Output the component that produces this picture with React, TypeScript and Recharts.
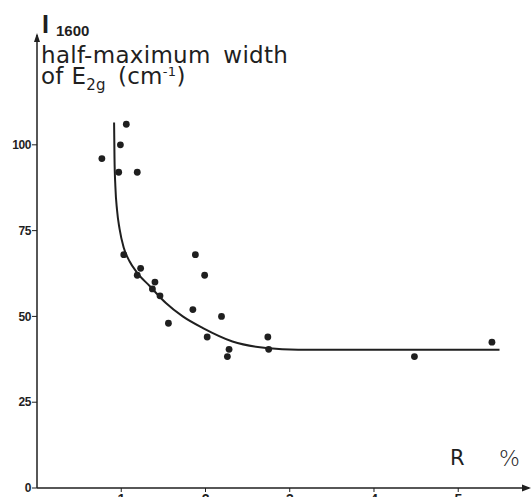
import React from "react";
import {
  ComposedChart,
  Scatter,
  Line,
  XAxis,
  YAxis,
  ReferenceDot,
} from "recharts";

// measured points: R (%) vs half-maximum width of E2g (cm-1)
const pointR = [
  0.77, 0.99, 1.06, 0.97, 1.19, 1.03, 1.23, 1.19, 1.4, 1.37, 1.46, 1.56, 1.85,
  1.88, 1.99, 2.19, 2.02, 2.28, 2.26, 2.74, 2.75, 4.48, 5.4,
];
const pointWidth = [
  96, 100, 106, 92, 92, 68, 64, 62, 60, 58, 56, 48, 52, 68, 62, 50, 44, 40.4,
  38.3, 44, 40.4, 38.3, 42.5,
];

// hand-drawn trend curve
const curveR = [
  0.915, 0.92, 0.93, 0.95, 0.98, 1.03, 1.1, 1.18, 1.34, 1.53, 1.73, 1.97, 2.32,
  2.72, 3.1, 4.0, 5.49,
];
const curveWidth = [
  106.5, 96, 88, 81, 75.5, 70, 66, 63, 58.8, 53.9, 50, 46.6, 42.7, 40.8, 40.3,
  40.3, 40.3,
];

const xTicks = [1, 2, 3, 4, 5];
const yTicks = [0, 25, 50, 75, 100];

const points = pointR.map((x, i) => ({ x, y: pointWidth[i] }));
const curve = curveR.map((x, i) => ({ x, y: curveWidth[i] }));

const INK = "#1f1f1f";
const X_MAX = 5.84;
const Y_MAX = 132;

const Dot = (props: any) => (
  <circle cx={props.cx} cy={props.cy} r={3.4} fill={INK} />
);

const ArrowRight = (props: any) => (
  <polygon
    points={`${props.cx + 2},${props.cy} ${props.cx - 7},${props.cy - 3.5} ${props.cx - 7},${props.cy + 3.5}`}
    fill={INK}
  />
);

const ArrowUp = (props: any) => (
  <polygon
    points={`${props.cx},${props.cy - 2} ${props.cx - 3},${props.cy + 7} ${props.cx + 3},${props.cy + 7}`}
    fill={INK}
  />
);

const tickStyle = {
  fontFamily: "'Liberation Sans', Arial, sans-serif",
  fontWeight: 700,
  fontSize: 12,
  fill: INK,
  letterSpacing: -0.4,
};

export default function App() {
  return (
    <div style={{ position: "absolute", top: 0, left: 0, width: 532, height: 497, overflow: "hidden", background: "#fff" }}>
      <ComposedChart
        width={532}
        height={515}
        margin={{ top: 35, right: 3, bottom: 2, left: 0 }}
      >
        <XAxis
          type="number"
          dataKey="x"
          domain={[0, X_MAX]}
          ticks={xTicks}
          allowDataOverflow
          height={25}
          tickSize={4}
          tickMargin={2}
          axisLine={{ stroke: INK, strokeWidth: 1.5 }}
          tickLine={{ stroke: INK, strokeWidth: 1 }}
          tick={{ ...tickStyle, fontSize: 14 }}
        />
        <YAxis
          type="number"
          dataKey="y"
          domain={[0, Y_MAX]}
          ticks={yTicks}
          allowDataOverflow
          width={37}
          tickSize={5}
          tickMargin={1}
          axisLine={{ stroke: INK, strokeWidth: 1.5 }}
          tickLine={{ stroke: INK, strokeWidth: 1 }}
          tick={tickStyle}
        />
        <Line
          data={curve}
          dataKey="y"
          type="monotone"
          stroke={INK}
          strokeWidth={2}
          dot={false}
          activeDot={false}
          isAnimationActive={false}
        />
        <Scatter
          data={points}
          dataKey="y"
          shape={Dot}
          isAnimationActive={false}
        />
        <ReferenceDot x={X_MAX} y={0} ifOverflow="visible" shape={ArrowRight} />
        <ReferenceDot x={0} y={Y_MAX} ifOverflow="visible" shape={ArrowUp} />
      </ComposedChart>
      <svg
        width={532}
        height={497}
        style={{ position: "absolute", top: 0, left: 0, pointerEvents: "none" }}
      >
        <g fill={INK} fontFamily="'DejaVu Sans', sans-serif">
          <text x={42} y={33} fontSize={25} fontWeight={700} fontFamily="'Liberation Sans', sans-serif">
            I
          </text>
          <text x={56} y={36} fontSize={15} fontWeight={700} fontFamily="'Liberation Sans', sans-serif">
            1600
          </text>
          <text x={41} y={63} fontSize={23} letterSpacing={0.3} wordSpacing={5}>
            half-maximum width
          </text>
          <text x={41} y={84} fontSize={23} letterSpacing={0.3}>
            <tspan>of E</tspan>
            <tspan fontSize={15} dy={6}>2g</tspan>
            <tspan dy={-6} dx={12}>(cm</tspan>
            <tspan fontSize={13} dy={-8}>-1</tspan>
            <tspan dy={8}>)</tspan>
          </text>
          <text x={450} y={465} fontSize={21}>
            R
          </text>
          <text x={499} y={466} fontSize={22} fontWeight={300}>
            %
          </text>
        </g>
      </svg>
    </div>
  );
}
